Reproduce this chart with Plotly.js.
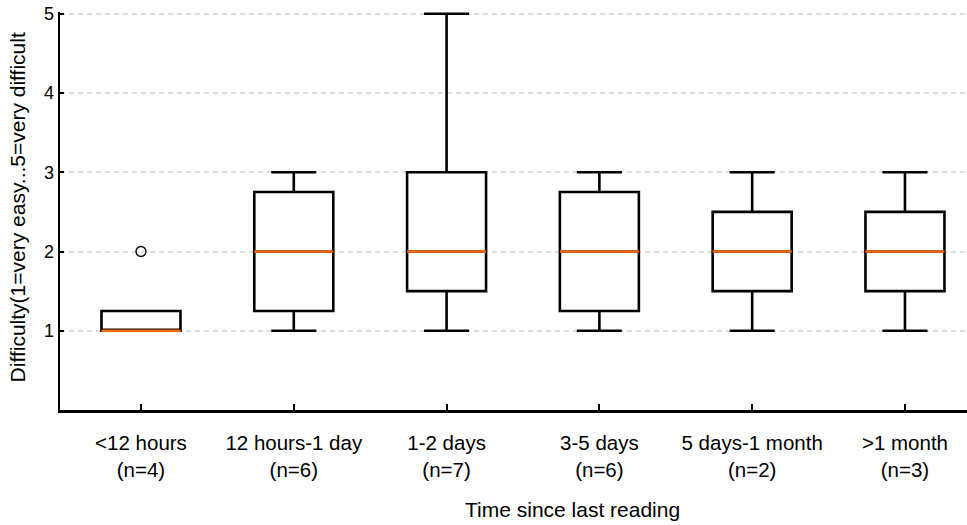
<!DOCTYPE html>
<html>
<head>
<meta charset="utf-8">
<script src="https://cdn.plot.ly/plotly-3.0.1.min.js"></script>
<style>html,body{margin:0;padding:0;background:#fff;overflow:hidden;}#chart{width:967px;height:525px;}</style>
</head>
<body>
<div id="chart"></div>
<script>
// Categories and tick labels
var categories = ["<12 hours", "12 hours-1 day", "1-2 days", "3-5 days", "5 days-1 month", ">1 month"];
var sampleSizes = [4, 6, 7, 6, 2, 3];
// Box statistics
var lowerWhisker = [1, 1, 1, 1, 1, 1];
var q1 = [1, 1.25, 1.5, 1.25, 1.5, 1.5];
var median = [1, 2, 2, 2, 2, 2];
var q3 = [1.25, 2.75, 3, 2.75, 2.5, 2.5];
var upperWhisker = [1.25, 3, 5, 3, 3, 3];
// Outliers
var outlierCategory = ["<12 hours"];
var outlierValue = [2];
var yTicks = [1, 2, 3, 4, 5];

var xIdx = categories.map(function (c, i) { return i; });
var tickText = categories.map(function (c, i) { return c + "<br>(n=" + sampleSizes[i] + ")"; });
var outlierX = outlierCategory.map(function (c) { return categories.indexOf(c); });

var FONT = "'Liberation Sans', Arial, Helvetica, sans-serif";
var BOXW = 0.517;

var boxes = {
  type: "box",
  x: xIdx,
  q1: q1, median: median, q3: q3,
  lowerfence: lowerWhisker, upperfence: upperWhisker,
  width: BOXW,
  whiskerwidth: 0.57,
  boxpoints: false,
  line: {color: "#000000", width: 2.6},
  fillcolor: "rgba(255,255,255,0)",
  hoverinfo: "skip",
  showlegend: false
};
var medians = {
  type: "box",
  x: xIdx,
  q1: median, median: median, q3: median,
  lowerfence: median, upperfence: median,
  width: BOXW,
  whiskerwidth: 1,
  boxpoints: false,
  line: {color: "#ff6a0d", width: 2.6},
  fillcolor: "rgba(255,255,255,0)",
  hoverinfo: "skip",
  showlegend: false
};
var outliers = {
  type: "scatter",
  mode: "markers",
  x: outlierX,
  y: outlierValue,
  marker: {symbol: "circle-open", size: 10, color: "#000000", line: {width: 1.3, color: "#000000"}},
  hoverinfo: "skip",
  showlegend: false
};

var layout = {
  width: 967, height: 525,
  margin: {l: 60, r: 0, t: 12, b: 115, pad: 0},
  paper_bgcolor: "#ffffff", plot_bgcolor: "#ffffff",
  font: {family: FONT, color: "#000000"},
  boxmode: "overlay",
  showlegend: false,
  xaxis: {
    range: [-0.53, 5.406],
    tickvals: xIdx, ticktext: tickText,
    ticks: "inside", ticklen: 6, tickwidth: 2, tickcolor: "#000000",
    showline: true, linewidth: 2.5, linecolor: "#000000",
    showgrid: false, zeroline: false,
    ticklabelstandoff: 13,
    tickfont: {family: FONT, size: 20.5, color: "#000000"}
  },
  yaxis: {
    range: [0, 5.022],
    tickvals: yTicks,
    ticks: "inside", ticklen: 4, tickwidth: 2, tickcolor: "#000000",
    showline: true, linewidth: 2.5, linecolor: "#000000",
    showgrid: true, gridcolor: "#dddddd", gridwidth: 2, griddash: "5px,4px",
    zeroline: false,
    tickfont: {family: FONT, size: 18, color: "#000000"}
  },
  annotations: [
    {text: "Time since last reading", xref: "paper", yref: "paper", x: 0.565, y: -0.251,
     xanchor: "center", yanchor: "middle", showarrow: false,
     font: {family: FONT, size: 21, color: "#000000"}},
    {text: "Difficulty(1=very easy...5=very difficult", xref: "paper", yref: "paper", x: -0.047, y: 0.51,
     xanchor: "center", yanchor: "middle", textangle: -90, showarrow: false,
     font: {family: FONT, size: 21, color: "#000000"}}
  ]
};

Plotly.newPlot("chart", [boxes, medians, outliers], layout, {displayModeBar: false, staticPlot: true});
</script>
</body>
</html>
